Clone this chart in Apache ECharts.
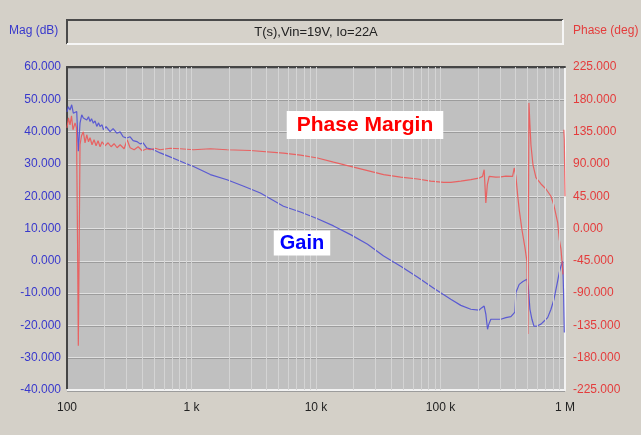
<!DOCTYPE html>
<html>
<head>
<meta charset="utf-8">
<script src="https://cdn.jsdelivr.net/npm/echarts@6/dist/echarts.min.js"></script>
<style>
  html, body { margin: 0; padding: 0; background: #d4d0c8; }
  #chart { width: 641px; height: 435px; }
</style>
</head>
<body>
<div id="chart"></div>
<script>
// Loop gain T(s) measurement, Vin = 19 V, Io = 22 A
const chartTitle = 'T(s),Vin=19V, Io=22A';

// Gain trace: frequency (Hz) and magnitude (dB)
const gainFreq = [100, 102.4, 105.7, 109.1, 112.4, 116.0, 119.7, 123.3, 127.2, 131.3,
  135.3, 139.6, 144.1, 148.9, 153.1, 157.5, 162.8, 168.0, 173.4, 179.3,
  184.3, 191.3, 196.0, 206.1, 221.9, 234.6, 251.2, 267.1, 282.4, 302.4,
  321.4, 339.8, 364.0, 386.8, 408.9, 438.0, 495.0, 560.5, 650.0, 763.7,
  890.7, 1039, 1416, 1929, 2628, 3575, 5475, 7504, 10282, 13828,
  18951, 25970, 34930, 47870, 65600, 88230, 120900, 145600, 175200, 203200,
  214800, 224200, 231300, 238700, 244500, 253800, 278400, 305400, 335100, 367600,
  395900, 403300, 428700, 459200, 494500, 506600, 522800, 542500, 563100, 595300,
  641200, 677400, 725500, 771500, 815600, 862300, 900000, 928700, 958400, 972600, 987100];
const gainDb = [46.1, 47.7, 46.7, 48.3, 45.7, 45.2, 46.2, 33.9, 42.6, 45.2,
  44.2, 44.7, 43.6, 44.6, 43.1, 44.0, 42.6, 43.3, 41.6, 42.7,
  41.6, 42.1, 40.6, 41.5, 40.0, 40.9, 39.5, 39.9, 38.4, 38.0,
  38.4, 37.2, 36.9, 36.2, 36.5, 34.9, 34.4, 33.4, 32.4, 31.3,
  30.2, 29.2, 26.7, 25.1, 23.1, 21.0, 16.9, 15.1, 13.0, 10.8,
  8.1, 5.1, 1.5, -1.7, -5.1, -8.5, -11.9, -13.8, -15.0, -15.3,
  -14.5, -14.0, -16.5, -21.2, -19.6, -18.1, -18.1, -18.1, -17.6, -17.3,
  -15.9, -9.8, -7.3, -6.4, -5.7, -7.8, -15.0, -18.1, -20.2, -20.2,
  -19.6, -18.7, -17.6, -15.0, -11.9, -7.3, -3.6, -1.6, -0.1, -8.8, -22.2];

// Phase trace: frequency (Hz) and phase (deg); null marks a wrap gap
const phaseFreq = [100, 102.8, 105.7, 108.7, 111.7, 116.0, 119.2, 121.5, 123.3, 125.4,
  127.2, 130.8, 135.3, 139.6, 144.1, 148.9, 153.1, 158.9, 164.9, 171.2,
  177.6, 184.3, 191.3, 202.2, 213.8, 226.0, 238.9, 252.6, 267.1, 287.6,
  304.1, 321.4, 346.2, 372.7, 401.4, 438.0, 465.6, 510.7, 560.5, 674.5,
  811.9, 1039, 1416, 1929, 2971, 5475, 7504, 10282, 13828, 18951,
  25970, 34930, 47870, 65600, 83470, 106200, 120900, 145600, 175200, 203200,
  217600, 224200, 231300, 237800, 245900, 278400, 305400, 335100, 379400, 390800,
  403300, 416200, 428700, 450800, 476500, 494500, 503800, 513300, 522800, 532600,
  552700, 584400, 641200, 703100, 771500, 815600, 873500, 900000, 928700, 946000,
  963600, 970000, 978000, 987100, 1000000];
const phaseDeg = [140.3, 154.2, 144.4, 156.9, 137.5, 147.2, 140.3, -15.3, -163.5, -15.3,
  116.7, 129.2, 134.7, 119.4, 130.6, 120.8, 126.4, 116.7, 123.6, 115.3,
  122.2, 113.9, 120.8, 115.3, 119.4, 113.9, 118.1, 112.5, 116.7, 111.1,
  123.6, 112.5, 109.7, 113.9, 108.3, 111.1, 109.7, 111.8, 109.7, 111.8,
  111.1, 109.7, 111.1, 109.7, 108.7, 105.1, 102.1, 98.2, 92.4, 86.5,
  80.6, 75.0, 71.5, 69.0, 66.0, 64.3, 64.3, 66.0, 68.1, 70.1,
  72.6, 81.9, 35.7, 61.1, 72.6, 71.5, 71.8, 72.9, 72.6, 84.3,
  72.6, 47.2, 26.4, -1.4, -26.4, -45.8, -147, 175, 144.4, 116.7,
  88.9, 70.8, 62.0, 55.0, 44.9, 32.0, 8.3, -15.3, -29.2, -45.8,
  -63.9, null, 137.5, 123.6, 44.9];

// Axis ranges and tick labels
const magTicks = { min: -40, max: 60, step: 10 };
const phaseTicks = { min: -225, max: 225, step: 45 };
const freqLabels = { 100: '100', 1000: '1 k', 10000: '10 k', 100000: '100 k', 1000000: '1 M' };
const decades = [100, 1000, 10000, 100000];
const minorSteps = [2, 3, 4, 5, 6, 7, 8, 9];

const gridFreqs = [];
decades.forEach(d => {
  if (d > 100) gridFreqs.push(d);
  minorSteps.forEach(m => gridFreqs.push(d * m));
});

const FONT = '"Liberation Sans", Arial, sans-serif';
const BLUE_TXT = '#3838cc';
const RED_TXT = '#e43c3c';

const chart = echarts.init(document.getElementById('chart'), null, { renderer: 'canvas' });

const PL = 67, PR = 565, PT = 67, PB = 390;

chart.setOption({
  animation: false,
  backgroundColor: '#d4d0c8',
  grid: {
    left: PL, right: 641 - PR, top: PT, bottom: 435 - PB,
    show: true, backgroundColor: '#c0c0c0', borderWidth: 0
  },
  xAxis: [{
    type: 'log', logBase: 10, min: 100, max: 1000000, position: 'bottom',
    axisLine: { show: true, onZero: false, lineStyle: { color: '#f2f2f2', width: 2 } },
    axisTick: { show: false },
    splitLine: { show: false },
    axisLabel: {
      margin: 12, color: '#222', fontFamily: FONT, fontSize: 12,
      formatter: v => freqLabels[Math.round(v)] || ''
    }
  }, {
    type: 'log', logBase: 10, min: 100, max: 1000000, position: 'top',
    axisLine: { show: true, onZero: false, lineStyle: { color: '#454545', width: 2 } },
    axisTick: { show: false }, axisLabel: { show: false }, splitLine: { show: false }
  }],
  yAxis: [{
    type: 'value', min: magTicks.min, max: magTicks.max, interval: magTicks.step,
    position: 'left',
    axisLine: { show: true, onZero: false, lineStyle: { color: '#454545', width: 2 } },
    axisTick: { show: false },
    splitLine: { show: true, lineStyle: { color: '#e0e0e0', width: 1,
      shadowColor: '#9c9c9c', shadowOffsetY: 1, shadowBlur: 0 } },
    axisLabel: { margin: 6, color: BLUE_TXT, fontFamily: FONT, fontSize: 12,
      formatter: v => v.toFixed(3) }
  }, {
    type: 'value', min: phaseTicks.min, max: phaseTicks.max, interval: phaseTicks.step,
    position: 'right',
    axisLine: { show: true, onZero: false, lineStyle: { color: '#f2f2f2', width: 2 } },
    axisTick: { show: false },
    splitLine: { show: false },
    axisLabel: { margin: 8, color: RED_TXT, fontFamily: FONT, fontSize: 12,
      formatter: v => v.toFixed(3) }
  }],
  series: [{
    // vertical log grid
    type: 'line', data: [], z: 1, silent: true,
    markLine: {
      silent: true, symbol: 'none', label: { show: false },
      lineStyle: { color: '#d4d4d4', width: 1, type: 'solid' },
      data: gridFreqs.map(f => ({ xAxis: f }))
    }
  }, {
    name: 'Gain', type: 'line', yAxisIndex: 0, z: 3,
    showSymbol: false, symbol: 'none',
    lineStyle: { color: '#4f4fd4', width: 1.2, opacity: 0.9 },
    data: gainFreq.map((f, i) => [f, gainDb[i]])
  }, {
    name: 'Phase', type: 'line', yAxisIndex: 1, z: 4,
    showSymbol: false, symbol: 'none', connectNulls: false,
    lineStyle: { color: '#ec5858', width: 1.2, opacity: 0.9 },
    data: phaseFreq.map((f, i) => [f, phaseDeg[i] === null ? '-' : phaseDeg[i]])
  }],
  graphic: [
    // title panel (sunken frame)
    { type: 'rect', left: 67, top: 20, shape: { width: 496, height: 24 },
      style: { fill: '#d6d2ca' }, silent: true },
    { type: 'polyline', shape: { points: [[67, 44], [67, 20], [563, 20]] },
      style: { stroke: '#4a4a4a', lineWidth: 2, fill: null }, silent: true },
    { type: 'polyline', shape: { points: [[67, 44], [563, 44], [563, 20]] },
      style: { stroke: '#f6f6f6', lineWidth: 2, fill: null }, silent: true },
    { type: 'text', x: 316, y: 32,
      style: { text: chartTitle, fill: '#222', font: '13px ' + FONT,
        align: 'center', verticalAlign: 'middle' } },
    // axis captions
    { type: 'text', x: 9, y: 31,
      style: { text: 'Mag (dB)', fill: BLUE_TXT, font: '12px ' + FONT,
        align: 'left', verticalAlign: 'middle' } },
    { type: 'text', x: 573, y: 31,
      style: { text: 'Phase (deg)', fill: RED_TXT, font: '12px ' + FONT,
        align: 'left', verticalAlign: 'middle' } },
    // trace captions
    { type: 'text', x: 365, y: 125, z: 10,
      style: { text: 'Phase Margin', fill: '#ff0000', font: 'bold 21px ' + FONT,
        align: 'center', verticalAlign: 'middle', backgroundColor: '#ffffff',
        padding: [4, 10, 3, 10] } },
    { type: 'text', x: 302, y: 243, z: 10,
      style: { text: 'Gain', fill: '#0000ff', font: 'bold 20px ' + FONT,
        align: 'center', verticalAlign: 'middle', backgroundColor: '#ffffff',
        padding: [3, 6, 2, 6] } }
  ]
});
</script>
</body>
</html>
